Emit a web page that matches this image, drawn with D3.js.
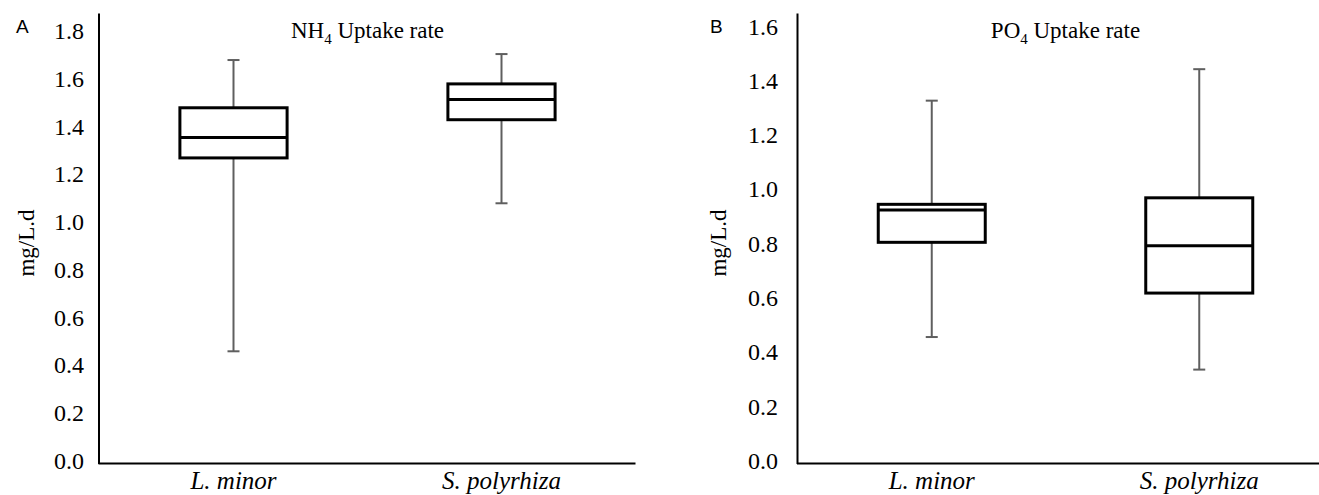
<!DOCTYPE html>
<html>
<head>
<meta charset="utf-8">
<script src="https://cdn.jsdelivr.net/npm/d3@7"></script>
<style>
  html, body { margin: 0; padding: 0; background: #fff; }
  svg { display: block; }
</style>
</head>
<body>
<svg id="chart" width="1319" height="495"></svg>
<script>
// ---- data ----
const categories = ["L. minor", "S. polyrhiza"];

const nh4Min    = [0.47, 1.09];
const nh4Q1     = [1.28, 1.44];
const nh4Median = [1.365, 1.525];
const nh4Q3     = [1.49, 1.59];
const nh4Max    = [1.69, 1.715];

const po4Min    = [0.466, 0.346];
const po4Q1     = [0.815, 0.628];
const po4Median = [0.934, 0.802];
const po4Q3     = [0.955, 0.979];
const po4Max    = [1.337, 1.453];

const nh4Ticks = [0.0, 0.2, 0.4, 0.6, 0.8, 1.0, 1.2, 1.4, 1.6, 1.8];
const po4Ticks = [0.0, 0.2, 0.4, 0.6, 0.8, 1.0, 1.2, 1.4, 1.6];

const yLabel = "mg/L.d";

// ---- drawing ----
const svg = d3.select("#chart");
const SERIF = "'Liberation Serif', 'DejaVu Serif', serif";

function panel(opts) {
  const { letter, letterX, chem, xRange, yMax, ticks, labelX, tickLabelEnd,
          mins, q1s, meds, q3s, maxs } = opts;
  const yBottom = 463.5, yTop = 13;
  const y = d3.scaleLinear().domain([0, yMax]).range([yBottom, yTop]);
  const x = d3.scaleBand().domain(categories).range(xRange).padding(0);
  const g = svg.append("g");
  const axisX = xRange[0] - 1;

  // y axis
  const ya = g.append("g").attr("transform", `translate(${axisX},0)`)
    .call(d3.axisLeft(y).tickValues(ticks).tickFormat(d3.format(".1f")).tickSize(0).tickSizeOuter(0));
  ya.attr("font-family", null);
  ya.select(".domain").attr("stroke", "#000").attr("stroke-width", 2);
  ya.selectAll("text")
    .attr("x", tickLabelEnd - axisX)
    .attr("dy", "0.2em")
    .attr("font-family", SERIF)
    .style("font-family", SERIF).style("font-size", "24px").attr("fill", "#000");

  // x axis
  const xa = g.append("g").attr("transform", `translate(0,${yBottom})`)
    .call(d3.axisBottom(x).tickSize(0).tickSizeOuter(0));
  xa.attr("font-family", null);
  xa.select(".domain").attr("stroke", "#000").attr("stroke-width", 2)
    .attr("d", `M${axisX},0H${xRange[1]}`);
  xa.selectAll("text")
    .attr("y", 25.5).attr("dy", 0)
    .attr("font-family", SERIF)
    .style("font-family", SERIF).style("font-size", "25px").style("font-style", "italic").attr("fill", "#000");

  // boxes
  const bw = x.bandwidth() * 0.4;
  const capW = 12;
  categories.forEach((c, i) => {
    const cx = x(c) + x.bandwidth() / 2;
    const wg = g.append("g").attr("stroke", "#5f5f5f").attr("stroke-width", 2);
    wg.append("line").attr("x1", cx).attr("x2", cx).attr("y1", y(q3s[i])).attr("y2", y(maxs[i]));
    wg.append("line").attr("x1", cx).attr("x2", cx).attr("y1", y(q1s[i])).attr("y2", y(mins[i]));
    wg.append("line").attr("x1", cx - capW / 2).attr("x2", cx + capW / 2).attr("y1", y(maxs[i])).attr("y2", y(maxs[i]));
    wg.append("line").attr("x1", cx - capW / 2).attr("x2", cx + capW / 2).attr("y1", y(mins[i])).attr("y2", y(mins[i]));
    g.append("rect")
      .attr("x", cx - bw / 2).attr("width", bw)
      .attr("y", y(q3s[i])).attr("height", y(q1s[i]) - y(q3s[i]))
      .attr("fill", "#fff").attr("stroke", "#000").attr("stroke-width", 3);
    g.append("line").attr("x1", cx - bw / 2).attr("x2", cx + bw / 2)
      .attr("y1", y(meds[i])).attr("y2", y(meds[i]))
      .attr("stroke", "#000").attr("stroke-width", 3);
  });

  // title
  const tcx = (xRange[0] + xRange[1]) / 2;
  const t = g.append("text").attr("x", tcx).attr("y", 38).attr("text-anchor", "middle")
    .style("font-family", SERIF).style("font-size", "23px").attr("fill", "#000");
  t.append("tspan").text(chem);
  t.append("tspan").attr("dy", 6).style("font-size", "15px").text("4");
  t.append("tspan").attr("dy", -6).text(" Uptake rate");

  // y label
  g.append("text").attr("transform", `translate(${labelX},243) rotate(-90)`)
    .attr("text-anchor", "middle")
    .style("font-family", SERIF).style("font-size", "23px").attr("fill", "#000")
    .text(yLabel);

  // panel letter
  g.append("text").attr("x", letterX).attr("y", 33)
    .style("font-family", "'Liberation Sans', Arial, sans-serif").style("font-size", "19px").attr("fill", "#000")
    .text(letter);
}

panel({
  letter: "A", letterX: 16, chem: "NH",
  xRange: [99.5, 635.5], yMax: 1.887, ticks: nh4Ticks, labelX: 34, tickLabelEnd: 84,
  mins: nh4Min, q1s: nh4Q1, meds: nh4Median, q3s: nh4Q3, maxs: nh4Max
});
panel({
  letter: "B", letterX: 710, chem: "PO",
  xRange: [798, 1333], yMax: 1.66, ticks: po4Ticks, labelX: 726, tickLabelEnd: 778,
  mins: po4Min, q1s: po4Q1, meds: po4Median, q3s: po4Q3, maxs: po4Max
});
</script>
</body>
</html>
